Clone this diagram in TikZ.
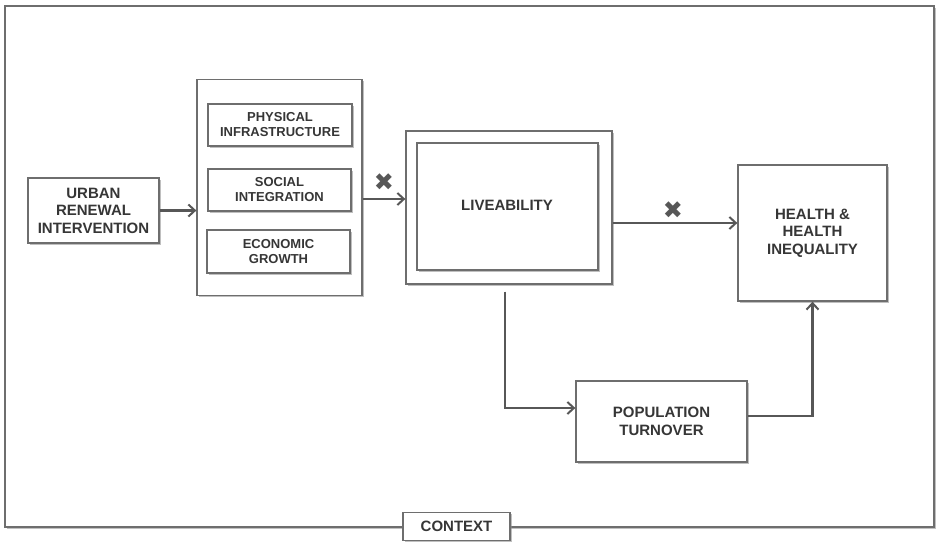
\documentclass[tikz,border=0pt]{standalone}
\usepackage{fontspec}
\setmainfont{Liberation Sans}
\newfontfamily\symfont{DejaVu Sans}
\usetikzlibrary{arrows.meta,shadows,calc}
\definecolor{lncol}{HTML}{575757}
\definecolor{bdcol}{HTML}{6E6E6E}
\definecolor{txcol}{HTML}{363636}
\tikzset{
  shd/.style={drop shadow={shadow xshift=1.6pt,shadow yshift=-1.6pt,fill=black!45,opacity=0.55}},
  box/.style={draw=bdcol,line width=1.3pt,fill=white,shd,inner sep=0pt,align=center,text=txcol,
    font=\fontsize{15}{17.5}\selectfont\bfseries},
  sbox/.style={box,font=\fontsize{13}{15}\selectfont\bfseries},
  conn/.style={draw=lncol,line width=2.4pt},
  arr/.style={conn,-{Straight Barb[length=6.5pt,width=12pt,line width=2pt]}},
  xmark/.style={text=lncol,inner sep=0pt,font=\symfont\fontsize{24}{24}\selectfont},
}
\begin{document}
\begin{tikzpicture}[x=1pt,y=-1pt]
\useasboundingbox (0,0) rectangle (936,544);
% outer frame
\node[draw=bdcol,fill=white,line width=1.8pt,shd,minimum width=929pt,minimum height=521pt,inner sep=0pt] (frame) at (469.5,266.5) {};
% boxes
\node[box,minimum width=131pt,minimum height=65pt] (urb) at (93.5,210.5) {URBAN\\RENEWAL\\INTERVENTION};
\node[box,minimum width=165pt,minimum height=216pt] (mid) at (279.5,187.5) {};
\node[sbox,minimum width=144pt,minimum height=42pt] (phys) at (280,125) {PHYSICAL\\INFRASTRUCTURE};
\node[sbox,minimum width=143pt,minimum height=42pt] (soc) at (279.5,190) {SOCIAL\\INTEGRATION};
\node[sbox,minimum width=143pt,minimum height=43pt] (eco) at (278.5,251.5) {ECONOMIC\\GROWTH};
\node[box,minimum width=206pt,minimum height=153pt] (liveO) at (509,207.5) {};
\node[box,minimum width=181pt,minimum height=127pt] (liveI) at (507.5,206.5) {};
\node[text=txcol,font=\fontsize{15}{17}\selectfont\bfseries] (livet) at (507,205) {LIVEABILITY};
\node[box,minimum width=149pt,minimum height=136pt] (health) at (812.5,233) {HEALTH \&\\HEALTH\\INEQUALITY};
\node[box,minimum width=171pt,minimum height=81pt] (pop) at (661.5,421.5) {POPULATION\\TURNOVER};
\node[box,minimum width=107pt,minimum height=28pt,font=\fontsize{15}{17}\selectfont\bfseries] (ctx) at (456.5,526.5) {CONTEXT};
% connectors
\draw[arr] (urb.east) -- (urb.east -| mid.west);
\coordinate (m1) at ([yshift=-11.5pt]mid.east);
\draw[arr] (m1) -- (m1 -| liveO.west);
\coordinate (l1) at ([yshift=-15.5pt]liveO.east);
\draw[arr] (l1) -- (l1 -| health.west);
\coordinate (l2) at ([shift={(-4pt,-7pt)}]liveO.south);
\coordinate (p1) at ([yshift=13.5pt]pop.west);
\draw[arr] (l2) |- (p1);
\coordinate (p2) at ([yshift=5.5pt]pop.east);
\draw[arr] (p2) -| (health.south);
% x marks
\node[xmark] (x1) at (384,182) {✖};
\node[xmark] (x2) at (673,210) {✖};
\end{tikzpicture}
\end{document}
